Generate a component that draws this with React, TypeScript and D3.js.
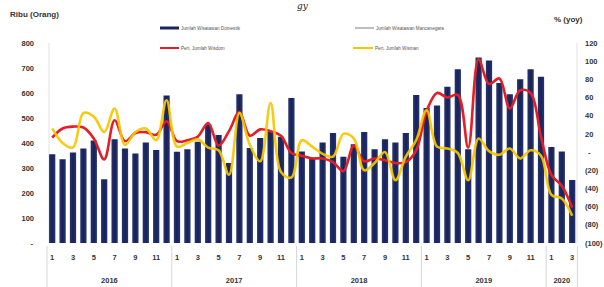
import * as d3 from "d3";

const years = ["2016", "2017", "2018", "2019", "2020"];
const monthsPerYear = [12, 12, 12, 12, 3];

// Jumlah Wisatawan Domestik (ribu orang)
const domestik = [
  355, 335, 362, 378, 410, 255, 415, 378, 358, 402, 372, 590,
  365, 375, 405, 475, 432, 320, 595, 380, 420, 445, 425, 580,
  366, 342, 402, 440, 345, 395, 444, 375, 415, 402, 440, 592,
  540, 550, 625, 695, 375, 742, 730, 640, 595, 655, 695, 665,
  384, 366, 252,
];

// Pert. Jumlah Wisdom (% yoy)
const pertWisdom = [
  16, 26, 28, 27, 15, -8, 35, 12, 21, 22, 19, 34,
  12, 13, 17, 32, 7, 23, 44, 18, 25, 23, 18, -1,
  -4, -7, -7, -11, -21, 7, -10, -7, -9, -12, -11, 2,
  45, 65, 60, 63, 5, 102, 75, 81, 48, 68, 65, 17,
  -25, -37, -61,
];

// Pert. Jumlah Wisman (% yoy)
const pertWisman = [
  26, 10, 5, 43, 39, 22, 48, 8, 22, 26, 13, 57,
  6, 10, 14, 5, 2, -25, 43, 8, -10, 54, -22, -28,
  13, 6, -2, -5, 20, 15, -20, -12, 0, -31, -5, 13,
  46, 6, 4, -1, -31, 15, 1, -3, 4, -7, 2, -4,
  -47, -51, -70,
];

const leftTicks = [0, 100, 200, 300, 400, 500, 600, 700, 800];
const rightTicks = [120, 100, 80, 60, 40, 20, 0, -20, -40, -60, -80, -100];

const W = 604;
const H = 287;
const FONT = "'Liberation Sans', Arial, sans-serif";

export default function App() {
  const months: { year: string; m: number }[] = [];
  years.forEach((y, yi) => {
    for (let m = 1; m <= monthsPerYear[yi]; m++) months.push({ year: y, m });
  });
  const idx = months.map((_, i) => i);

  const x = d3.scaleBand<number>().domain(idx).range([47, 577.4]).paddingInner(0.4).paddingOuter(0.2);
  const yL = d3.scaleLinear().domain([0, 800]).range([243, 43]);
  const yR = d3.scaleLinear().domain([-100, 120]).range([243, 43]);
  const cx = (i: number) => (x(i) as number) + x.bandwidth() / 2;

  const line = d3
    .line<number>()
    .x((_, i) => cx(i))
    .y((d) => yR(d))
    .curve(d3.curveCatmullRom.alpha(0.5));

  // year group boundaries
  const bounds: number[] = [47];
  let acc = 0;
  monthsPerYear.forEach((n) => {
    acc += n;
    bounds.push(acc < months.length ? (x(acc) as number) - (x.step() * x.paddingInner()) / 2 : 577.4);
  });

  const fmtR = (v: number) => (v === 0 ? "-" : v < 0 ? `(${-v})` : `${v}`);

  return (
    <div style={{ position: "fixed", left: 0, top: 0 }}>
      <svg width={W} height={H} style={{ display: "block", background: "#fff" }}>
        <defs>
          <linearGradient id="barGrad" x1="0" x2="1" y1="0" y2="0">
            <stop offset="0" stopColor="#26356f" />
            <stop offset="0.5" stopColor="#18225a" />
            <stop offset="1" stopColor="#26356f" />
          </linearGradient>
        </defs>

        {/* caption fragment from above the chart */}
        <text x={297} y={9} fontFamily="'DejaVu Serif', serif" fontStyle="italic" fontSize={9} fill="#222">
          gy
        </text>

        <text x={10} y={17} fontFamily={FONT} fontWeight="bold" fontSize={8} fill="#333">
          Ribu (Orang)
        </text>
        <text x={554} y={22} fontFamily={FONT} fontWeight="bold" fontSize={8} fill="#333">
          % (yoy)
        </text>

        {/* legend */}
        <g fontFamily={FONT} fontSize={4.6} fill="#555">
          <line x1={160} x2={179} y1={28} y2={28} stroke="#1a2560" strokeWidth={3} />
          <text x={181} y={29.6}>Jumlah Wisatawan Domestik</text>
          <line x1={355} x2={374} y1={28} y2={28} stroke="#bdbdbd" strokeWidth={2} />
          <text x={376} y={29.6}>Jumlah Wisatawan Mancanegara</text>
          <line x1={160} x2={179} y1={48} y2={48} stroke="#e41e26" strokeWidth={2} />
          <text x={181} y={49.6}>Pert. Jumlah Wisdom</text>
          <line x1={353} x2={373} y1={48} y2={48} stroke="#f7c600" strokeWidth={2} />
          <text x={375} y={49.6}>Pert. Jumlah Wisman</text>
        </g>

        {/* axes lines */}
        <line x1={49} x2={49} y1={43} y2={243} stroke="#e2e2e2" strokeWidth={1} />
        <line x1={577} x2={577} y1={43} y2={243} stroke="#e2e2e2" strokeWidth={1} />

        {/* left ticks */}
        <g fontFamily={FONT} fontWeight="bold" fontSize={7.5} fill="#333" textAnchor="end">
          {leftTicks.map((t) => (
            <text key={t} x={t === 0 ? 33 : 34} y={yL(t) + 2.6}>
              {t === 0 ? "-" : t}
            </text>
          ))}
        </g>

        {/* right ticks */}
        <g fontFamily={FONT} fontWeight="bold" fontSize={7.5} fill="#333">
          {rightTicks.map((t) => (
            <text key={t} x={t === 0 ? 588 : 585} y={yR(t) + 2.6}>
              {fmtR(t)}
            </text>
          ))}
        </g>

        {/* bars */}
        {domestik.map((v, i) => (
          <rect key={i} x={x(i)} y={yL(v)} width={x.bandwidth()} height={yL(0) - yL(v)} fill="url(#barGrad)" />
        ))}

        {/* growth lines */}
        <path d={line(pertWisdom) || ""} fill="none" stroke="#e41e26" strokeWidth={2.6} strokeLinejoin="round" />
        <path d={line(pertWisman) || ""} fill="none" stroke="#f7c600" strokeWidth={2.6} strokeLinejoin="round" opacity={0.92} />

        {/* month labels */}
        <g fontFamily={FONT} fontWeight="bold" fontSize={7.5} fill="#333" textAnchor="middle">
          {months.map((d, i) =>
            d.m % 2 === 1 ? (
              <text key={i} x={cx(i)} y={260}>
                {d.m}
              </text>
            ) : null
          )}
        </g>

        {/* year separators and labels */}
        {bounds.map((b, i) => (
          <line key={i} x1={b} x2={b} y1={246} y2={287} stroke="#d6d6d6" strokeWidth={1} />
        ))}
        <g fontFamily={FONT} fontWeight="bold" fontSize={7.5} fill="#333" textAnchor="middle">
          {years.map((y, i) => (
            <text key={y} x={(bounds[i] + bounds[i + 1]) / 2} y={283}>
              {y}
            </text>
          ))}
        </g>
      </svg>
    </div>
  );
}
